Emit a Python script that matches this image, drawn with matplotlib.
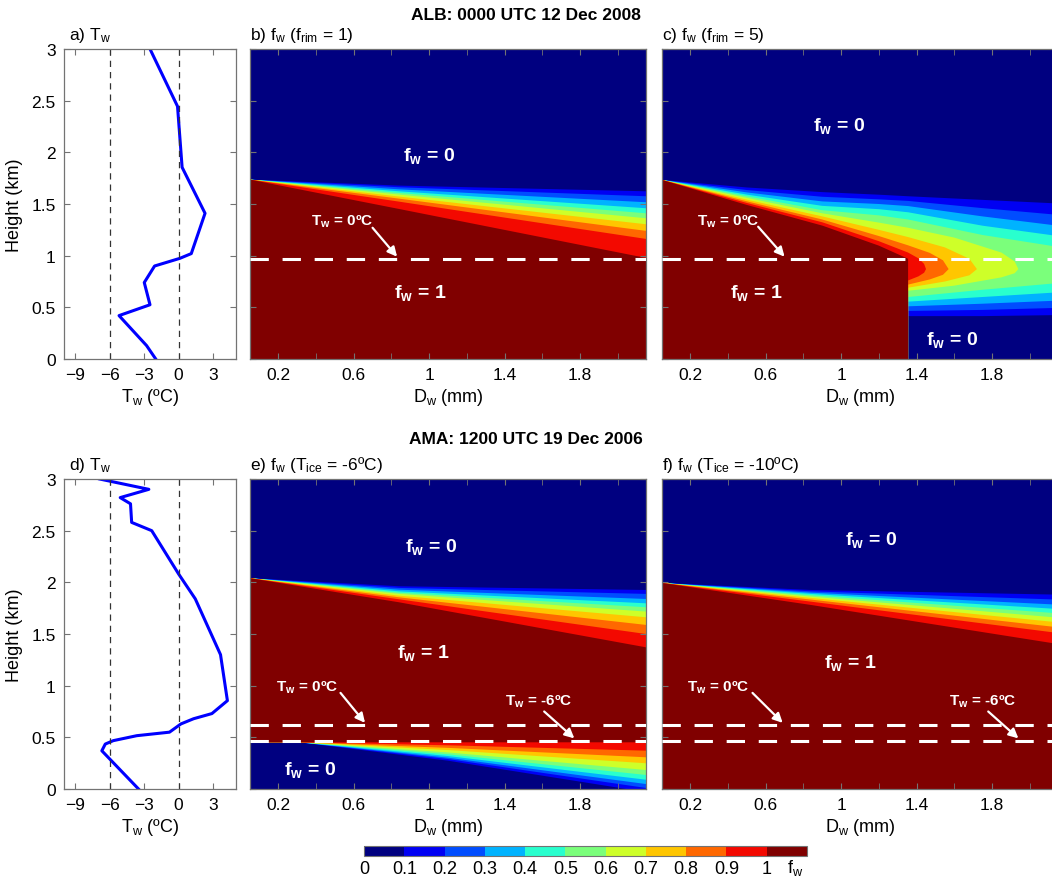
import numpy as np
import matplotlib
matplotlib.use("Agg")
import matplotlib.pyplot as plt
from matplotlib.colors import BoundaryNorm
from matplotlib.cm import ScalarMappable
from matplotlib.ticker import FormatStrFormatter, FixedLocator

plt.rcParams['font.family'] = ['Liberation Sans', 'DejaVu Sans']
plt.rcParams['mathtext.fontset'] = 'custom'
plt.rcParams['mathtext.rm'] = 'Liberation Sans'
plt.rcParams['mathtext.it'] = 'Liberation Sans:italic'
plt.rcParams['mathtext.bf'] = 'Liberation Sans:bold'

# --- values ---
fw_ticks = [0, 0.1, 0.2, 0.3, 0.4, 0.5, 0.6, 0.7, 0.8, 0.9, 1.0]
fw_tick_labels = ['0', '0.1', '0.2', '0.3', '0.4', '0.5', '0.6', '0.7', '0.8', '0.9', '1']

# a) ALB wet-bulb temperature profile
alb_tw = [-2.0, -2.8, -5.2, -2.5, -3.0, -2.1, 0.1, 1.1, 2.3, 0.3, -0.1, -2.5]
alb_h = [0.0, 0.13, 0.42, 0.525, 0.74, 0.90, 0.974, 1.02, 1.41, 1.855, 2.445, 3.0]

# d) AMA wet-bulb temperature profile
ama_tw = [-3.5, -6.7, -6.4, -5.7, -3.65, -0.8, 0.2, 1.3, 2.9, 4.25, 3.65, 1.45, 0.0,
          -2.35, -4.1, -4.2, -5.1, -2.6, -6.9]
ama_h = [0.0, 0.37, 0.435, 0.468, 0.516, 0.55, 0.63, 0.68, 0.73, 0.855, 1.30, 1.84, 2.08,
         2.50, 2.58, 2.76, 2.82, 2.90, 3.0]

# heights of the Tw = 0 / -6 C levels (km)
alb_t0_h = 0.968
ama_t0_h = 0.62
ama_t6_h = 0.46

# b) fw(frim = 1): height (km) where fw reaches 0.1 ... 1.0, at these Dw (mm)
b_d = [0.05, 0.84, 2.15]
b_h = [[1.736, 1.678, 1.623],
       [1.736, 1.662, 1.575],
       [1.736, 1.642, 1.517],
       [1.736, 1.623, 1.459],
       [1.736, 1.607, 1.410],
       [1.736, 1.591, 1.362],
       [1.736, 1.572, 1.304],
       [1.736, 1.552, 1.240],
       [1.736, 1.523, 1.162],
       [1.736, 1.452, 0.978]]

# c) fw(frim = 5): upper edge left of the Dw = 1.355 mm break
c_d = [0.05, 0.5, 0.9, 1.2, 1.355]
c_h = [[1.733, 1.660, 1.615, 1.590, 1.575],
       [1.733, 1.635, 1.570, 1.545, 1.530],
       [1.733, 1.612, 1.525, 1.500, 1.480],
       [1.733, 1.591, 1.482, 1.450, 1.420],
       [1.733, 1.575, 1.440, 1.390, 1.350],
       [1.733, 1.559, 1.410, 1.320, 1.270],
       [1.733, 1.542, 1.380, 1.250, 1.180],
       [1.733, 1.526, 1.350, 1.190, 1.100],
       [1.733, 1.510, 1.323, 1.140, 1.030],
       [1.733, 1.491, 1.291, 1.097, 0.970]]
# c) right of the break: Dw, upper and lower edge of each fw level
c_right_d = [[1.355, 1.75, 2.15],
             [1.355, 1.75, 2.15],
             [1.355, 1.75, 2.15],
             [1.355, 1.75, 2.15],
             [1.355, 1.75, 2.15],
             [1.355, 1.6, 1.85, 1.92, 1.94],
             [1.355, 1.55, 1.68, 1.72],
             [1.355, 1.47, 1.54, 1.57],
             [1.355, 1.41, 1.44, 1.45],
             []]
c_right_up = [[1.575, 1.540, 1.505],
              [1.530, 1.460, 1.395],
              [1.480, 1.380, 1.290],
              [1.420, 1.290, 1.190],
              [1.350, 1.200, 1.085],
              [1.270, 1.175, 1.030, 0.944, 0.87],
              [1.180, 1.080, 0.970, 0.87],
              [1.100, 1.027, 0.955, 0.87],
              [1.030, 0.974, 0.920, 0.87],
              []]
c_right_lo = [[0.415, 0.415, 0.425],
              [0.465, 0.475, 0.495],
              [0.510, 0.535, 0.565],
              [0.555, 0.600, 0.645],
              [0.600, 0.670, 0.735],
              [0.660, 0.710, 0.790, 0.830, 0.87],
              [0.690, 0.750, 0.810, 0.87],
              [0.720, 0.770, 0.815, 0.87],
              [0.760, 0.800, 0.835, 0.87],
              []]

# e) fw(Tice = -6C): upper transition and lower transition
e_top_d = [0.05, 0.84, 2.15]
e_top_h = [[2.04, 1.962, 1.926],
           [2.04, 1.946, 1.888],
           [2.04, 1.929, 1.839],
           [2.04, 1.913, 1.797],
           [2.04, 1.900, 1.759],
           [2.04, 1.888, 1.717],
           [2.04, 1.871, 1.662],
           [2.04, 1.855, 1.588],
           [2.04, 1.836, 1.500],
           [2.04, 1.807, 1.371]]
e_bot_d = [0.05, 0.31, 1.1, 2.15]
e_bot_h = [[0.452, 0.452, 0.274, -0.03],
           [0.452, 0.452, 0.290, 0.010],
           [0.452, 0.452, 0.303, 0.048],
           [0.452, 0.452, 0.319, 0.090],
           [0.452, 0.452, 0.336, 0.136],
           [0.452, 0.452, 0.354, 0.184],
           [0.452, 0.452, 0.377, 0.249],
           [0.452, 0.452, 0.398, 0.307],
           [0.452, 0.452, 0.423, 0.371],
           [0.452, 0.452, 0.452, 0.452]]

# f) fw(Tice = -10C): upper transition only
f_d = [0.05, 0.84, 2.15]
f_h = [[1.994, 1.926, 1.881],
       [1.994, 1.913, 1.833],
       [1.994, 1.900, 1.784],
       [1.994, 1.888, 1.742],
       [1.994, 1.875, 1.700],
       [1.994, 1.862, 1.658],
       [1.994, 1.849, 1.613],
       [1.994, 1.833, 1.565],
       [1.994, 1.813, 1.510],
       [1.994, 1.781, 1.403]]

cmap = plt.get_cmap('jet', 11)
GRAY = '0.45'

fig = plt.figure(figsize=(10.52, 8.79), dpi=100)
W, H = 1052.0, 879.0


def px_axes(x0, y0, w, h):
    return fig.add_axes([x0 / W, 1 - (y0 + h) / H, w / W, h / H])


def style(ax):
    for s in ax.spines.values():
        s.set_color(GRAY)
        s.set_linewidth(0.9)
    ax.tick_params(direction='in', top=True, right=True, color=GRAY,
                   labelsize=12.5, length=4, pad=6)
    ax.tick_params(which='minor', direction='in', top=True, right=True,
                   color=GRAY, length=4)


def profile_panel(ax, tw, h, label):
    ax.plot(tw, h, color='#0000ff', lw=2.2)
    for t in (-6, 0):
        ax.axvline(t, color='0.2', lw=0.9, dashes=(5, 4))
    ax.set_xlim(-10, 5)
    ax.set_ylim(0, 3)
    ax.set_xticks([-9, -6, -3, 0, 3])
    ax.set_yticks([0, 0.5, 1, 1.5, 2, 2.5, 3])
    ax.yaxis.set_major_formatter(FormatStrFormatter('%g'))
    ax.set_xlabel('T$_\\mathregular{w}$ (ºC)', fontsize=13, labelpad=3)
    ax.set_ylabel('Height (km)', fontsize=13, labelpad=6)
    style(ax)
    ax.text(0.03, 1.015, label, transform=ax.transAxes, fontsize=12.5,
            ha='left', va='bottom')


def fw_panel(ax, label):
    ax.set_facecolor(cmap(0))
    ax.set_xlim(0.05, 2.15)
    ax.set_ylim(0, 3)
    ax.xaxis.set_major_locator(FixedLocator([0.2, 0.6, 1.0, 1.4, 1.8]))
    ax.xaxis.set_minor_locator(FixedLocator([0.4, 0.8, 1.2, 1.6, 2.0]))
    ax.xaxis.set_major_formatter(FormatStrFormatter('%g'))
    ax.set_yticks([0, 0.5, 1, 1.5, 2, 2.5, 3])
    ax.set_yticklabels([])
    ax.set_xlabel('D$_\\mathregular{w}$ (mm)', fontsize=13, labelpad=3)
    style(ax)
    ax.text(0.0, 1.015, label, transform=ax.transAxes, fontsize=12.5,
            ha='left', va='bottom')


def fill_top(ax, d, h_levels):
    for i, h in enumerate(h_levels):
        xs = [d[0]] + list(d) + [d[-1]]
        ys = [-0.1] + list(h) + [-0.1]
        ax.fill(xs, ys, color=cmap(i + 1), lw=0, zorder=1)


def fill_between_edges(ax, d_top, h_top, d_bot, h_bot):
    for i in range(len(h_top)):
        xs = list(d_top) + list(d_bot)[::-1]
        ys = list(h_top[i]) + list(h_bot[i])[::-1]
        ax.fill(xs, ys, color=cmap(i + 1), lw=0, zorder=1)


def label_fw(ax, x, y, val):
    ax.text(x, y, 'f$_\\mathbf{w}$ = %s' % val, color='white', fontsize=14,
            fontweight='bold', ha='center', va='center', zorder=5)


def tw_arrow(ax, text, txy, tail, head):
    ax.text(txy[0], txy[1], text, color='white', fontsize=11, fontweight='bold',
            ha='center', va='center', zorder=5)
    ax.annotate('', xy=head, xytext=tail, zorder=5,
                arrowprops=dict(arrowstyle='-|>', color='white', lw=1.6,
                                mutation_scale=14, shrinkA=0, shrinkB=0))


def white_dash(ax, h):
    ax.axhline(h, color='white', lw=2.2, dashes=(6, 4.5), zorder=4)


tw0 = 'T$_\\mathbf{w}$ = 0ºC'
tw6 = 'T$_\\mathbf{w}$ = -6ºC'

# ---- top row ----
ax_a = px_axes(64, 50, 172, 310)
profile_panel(ax_a, alb_tw, alb_h, 'a) T$_\\mathregular{w}$')

ax_b = px_axes(250, 50, 396, 310)
fw_panel(ax_b, 'b) f$_\\mathregular{w}$ (f$_\\mathregular{rim}$ = 1)')
fill_top(ax_b, b_d, b_h)
white_dash(ax_b, alb_t0_h)
label_fw(ax_b, 1.0, 1.97, '0')
label_fw(ax_b, 0.95, 0.65, '1')
tw_arrow(ax_b, tw0, (0.54, 1.34), (0.70, 1.27), (0.83, 0.99))

ax_c = px_axes(662, 50, 396, 310)
fw_panel(ax_c, 'c) f$_\\mathregular{w}$ (f$_\\mathregular{rim}$ = 5)')
for i in range(len(c_h)):
    xs = [c_d[0]] + list(c_d) + list(c_right_d[i]) + list(c_right_d[i])[::-1] + [c_d[-1]]
    ys = [-0.1] + list(c_h[i]) + list(c_right_up[i]) + list(c_right_lo[i])[::-1] + [-0.1]
    ax_c.fill(xs, ys, color=cmap(i + 1), lw=0, zorder=1)
white_dash(ax_c, alb_t0_h)
label_fw(ax_c, 0.99, 2.26, '0')
label_fw(ax_c, 0.55, 0.65, '1')
label_fw(ax_c, 1.59, 0.19, '0')
tw_arrow(ax_c, tw0, (0.40, 1.34), (0.56, 1.28), (0.70, 0.99))

# ---- bottom row ----
ax_d = px_axes(64, 480, 172, 310)
profile_panel(ax_d, ama_tw, ama_h, 'd) T$_\\mathregular{w}$')

ax_e = px_axes(250, 480, 396, 310)
fw_panel(ax_e, 'e) f$_\\mathregular{w}$ (T$_\\mathregular{ice}$ = -6ºC)')
fill_between_edges(ax_e, e_top_d, e_top_h, e_bot_d, e_bot_h)
white_dash(ax_e, ama_t0_h)
white_dash(ax_e, ama_t6_h)
label_fw(ax_e, 1.01, 2.35, '0')
label_fw(ax_e, 0.97, 1.33, '1')
label_fw(ax_e, 0.37, 0.19, '0')
tw_arrow(ax_e, tw0, (0.355, 0.99), (0.53, 0.93), (0.66, 0.64))
tw_arrow(ax_e, tw6, (1.58, 0.85), (1.61, 0.75), (1.77, 0.49))

ax_f = px_axes(662, 480, 396, 310)
fw_panel(ax_f, 'f) f$_\\mathregular{w}$ (T$_\\mathregular{ice}$ = -10ºC)')
fill_top(ax_f, f_d, f_h)
white_dash(ax_f, ama_t0_h)
white_dash(ax_f, ama_t6_h)
label_fw(ax_f, 1.16, 2.42, '0')
label_fw(ax_f, 1.05, 1.23, '1')
tw_arrow(ax_f, tw0, (0.35, 0.99), (0.53, 0.93), (0.69, 0.64))
tw_arrow(ax_f, tw6, (1.75, 0.85), (1.78, 0.75), (1.94, 0.49))

# ---- titles ----
fig.text(0.5, 1 - 15 / H, 'ALB: 0000 UTC 12 Dec 2008', ha='center', va='center',
         fontsize=12.5, fontweight='bold')
fig.text(0.5, 1 - 440 / H, 'AMA: 1200 UTC 19 Dec 2006', ha='center', va='center',
         fontsize=12.5, fontweight='bold')

# ---- colorbar ----
cax = px_axes(364, 847, 443, 10)
norm = BoundaryNorm(np.linspace(0, 1.1, 12), cmap.N)
cb = fig.colorbar(ScalarMappable(norm=norm, cmap=cmap), cax=cax,
                  orientation='horizontal', ticks=fw_ticks)
cb.set_ticklabels(fw_tick_labels)
cb.minorticks_off()
cb.outline.set_edgecolor(GRAY)
cb.outline.set_linewidth(0.8)
cax.tick_params(which='both', length=0, labelsize=13, pad=3)
fig.text(795 / W, 1 - 868 / H, 'f$_\\mathregular{w}$', ha='center', va='center',
         fontsize=13)

fig.savefig('out.png', dpi=100)
